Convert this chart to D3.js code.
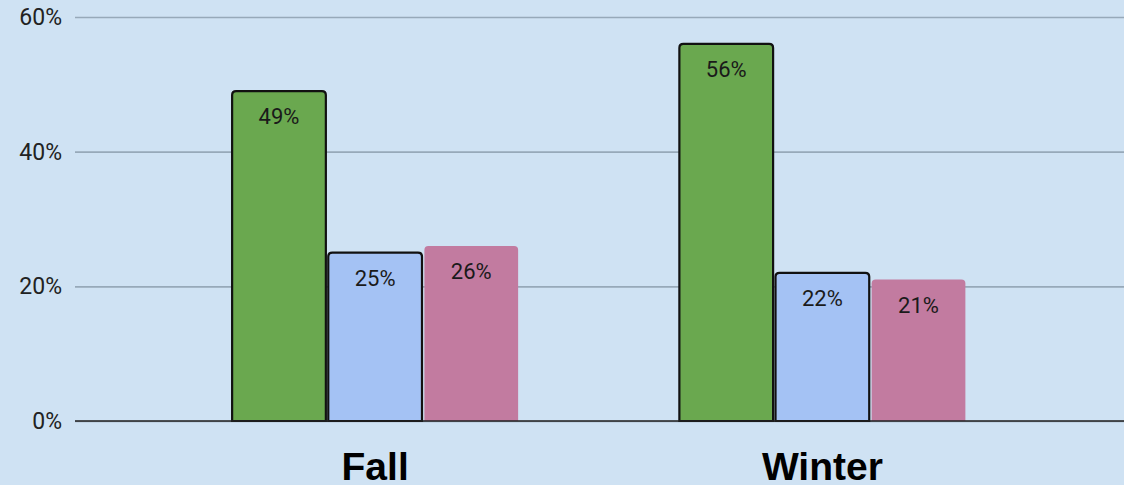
<!DOCTYPE html>
<html><head><meta charset="utf-8">
<script src="https://cdn.jsdelivr.net/npm/d3@7"></script>
<style>html,body{margin:0;padding:0;background:#cfe2f3;}svg{display:block;}</style>
</head><body><svg id="c" width="1124" height="485"></svg>
<script>
const categories = ["Fall", "Winter"];
const seriesNames = ["A", "B", "C"];
const seriesA = [49, 56];
const seriesB = [25, 22];
const seriesC = [26, 21];
const yTicks = [0, 20, 40, 60];
const colors = ["#6aa84f", "#a4c2f4", "#c27ba0"];
const strokes = ["#111", "#111", "none"];

const W = 1124, H = 485;
const svg = d3.select("#c");
svg.append("rect").attr("width", W).attr("height", H).attr("fill", "#cfe2f3");

const y = d3.scaleLinear().domain([0, 60]).range([421, 17]);
const x0 = d3.scaleBand().domain(categories).range([151.5, 1046]).padding(0);
const x1 = d3.scaleBand().domain(seriesNames).range([-143, 143]).paddingInner(0.025).paddingOuter(0);

// grid
const yAxis = d3.axisLeft(y).tickValues(yTicks).tickFormat(d => d + "%").tickSize(-(1124 - 75)).tickPadding(13);
const gy = svg.append("g").attr("transform", "translate(75,0)").call(yAxis);
gy.select(".domain").remove();
gy.selectAll(".tick line").attr("stroke", "#97a9b9").attr("stroke-width", 1.6);
gy.selectAll(".tick text").attr("font-family", "Roboto, sans-serif").attr("font-size", 23).attr("fill", "#222");

const data = [];
categories.forEach((c, i) => {
  [seriesA, seriesB, seriesC].forEach((s, j) => data.push({c, k: seriesNames[j], v: s[i], j}));
});

const g = svg.append("g");
g.selectAll("path.bar").data(data).enter().append("path").attr("class", "bar")
  .attr("d", d => {
    const xx = x0(d.c) + x0.bandwidth() / 2 + x1(d.k);
    const w = x1.bandwidth();
    const top = y(d.v), bot = y(0);
    const r = 4;
    return `M${xx},${bot}V${top + r}Q${xx},${top} ${xx + r},${top}H${xx + w - r}Q${xx + w},${top} ${xx + w},${top + r}V${bot}Z`;
  })
  .attr("fill", d => colors[d.j])
  .attr("stroke", d => strokes[d.j])
  .attr("stroke-width", 2.2);

g.selectAll("text.lbl").data(data).enter().append("text").attr("class", "lbl")
  .attr("x", d => x0(d.c) + x0.bandwidth() / 2 + x1(d.k) + x1.bandwidth() / 2)
  .attr("y", d => y(d.v) + 33)
  .attr("text-anchor", "middle")
  .attr("font-family", "Roboto, sans-serif").attr("font-size", 22)
  .attr("fill", "#1a1a1a")
  .text(d => d.v + "%");

// baseline
svg.append("line").attr("x1", 75).attr("x2", 1124).attr("y1", y(0)).attr("y2", y(0))
  .attr("stroke", "#222").attr("stroke-width", 1.6);

// x labels
const xAxis = d3.axisBottom(x0).tickSize(0).tickPadding(0);
const gx = svg.append("g").attr("transform", `translate(0,${y(0)})`).call(xAxis);
gx.select(".domain").remove();
gx.selectAll(".tick text").attr("font-family", "'Liberation Sans', Arial, sans-serif")
  .attr("font-weight", "bold").attr("font-size", 39).attr("fill", "#000")
  .attr("dy", 0).attr("y", 59);
</script></body></html>
